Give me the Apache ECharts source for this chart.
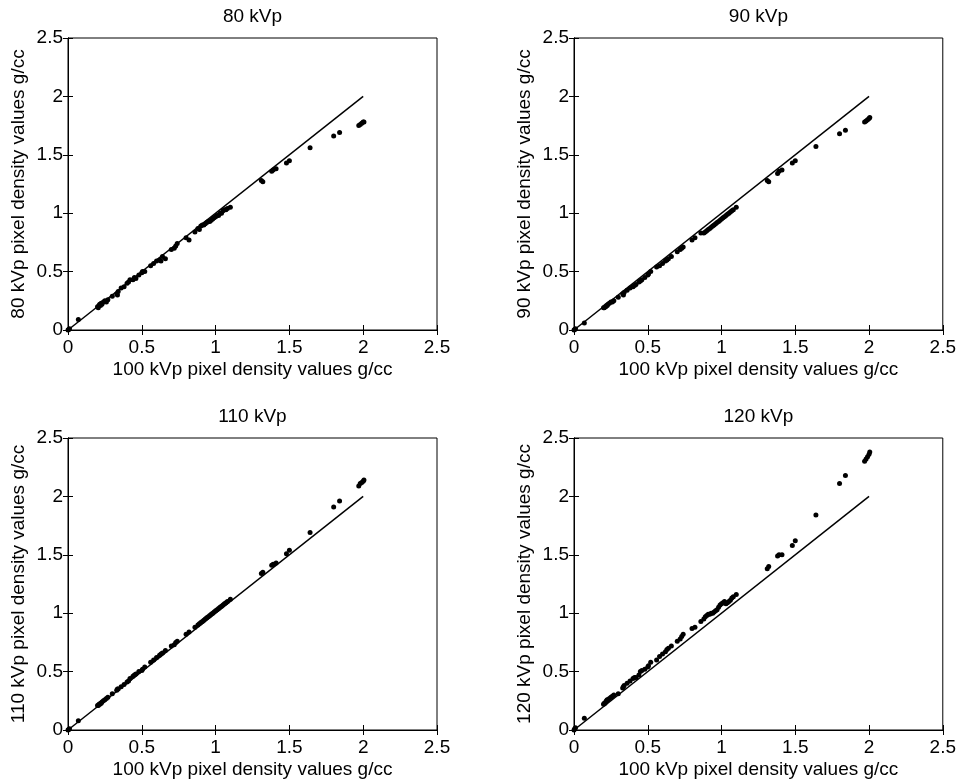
<!DOCTYPE html>
<html>
<head>
<meta charset="utf-8">
<script src="https://cdn.jsdelivr.net/npm/echarts@6/dist/echarts.min.js"></script>
<style>html,body{margin:0;padding:0;background:#fff;}#c{width:959px;height:782px;}</style>
</head>
<body>
<div id="c"></div>
<script>
// 100 kVp pixel density values (shared x values)
const x100 = [0, 0.005, 0.01, 0.07,
  0.2, 0.205, 0.21, 0.215, 0.22, 0.225, 0.23, 0.24, 0.25, 0.26, 0.27,
  0.3, 0.33, 0.335, 0.34, 0.36, 0.38,
  0.4, 0.41, 0.42, 0.44, 0.45, 0.46, 0.48,
  0.5, 0.505, 0.52, 0.56, 0.58,
  0.6, 0.62, 0.63, 0.64, 0.66,
  0.7, 0.72, 0.73, 0.74,
  0.8, 0.82, 0.86, 0.88, 0.89,
  0.9, 0.91, 0.92, 0.93, 0.94, 0.95, 0.96, 0.97, 0.98, 0.99,
  1.0, 1.01, 1.02, 1.03, 1.04, 1.05, 1.06, 1.07, 1.08,
  1.1,
  1.31, 1.32, 1.38, 1.39, 1.41,
  1.48, 1.5, 1.64,
  1.8, 1.84,
  1.97, 1.98, 1.99, 2.0, 2.005];

const y80 = [0, 0.005, 0.01, 0.09,
  0.2, 0.19, 0.21, 0.22, 0.21, 0.23, 0.22, 0.24, 0.25, 0.24, 0.26,
  0.29, 0.31, 0.3, 0.33, 0.36, 0.37,
  0.4, 0.41, 0.43, 0.43, 0.45, 0.44, 0.47,
  0.49, 0.5, 0.5, 0.55, 0.57,
  0.59, 0.6, 0.59, 0.63, 0.61,
  0.69, 0.7, 0.72, 0.74,
  0.79, 0.77, 0.84, 0.87, 0.86,
  0.89, 0.9, 0.9, 0.91, 0.92, 0.93, 0.93, 0.94, 0.95, 0.96,
  0.97, 0.98, 0.98, 1.0, 1.0, 1.02, 1.03, 1.03, 1.04,
  1.05,
  1.28, 1.27, 1.36, 1.37, 1.38,
  1.43, 1.45, 1.56,
  1.66, 1.69,
  1.75, 1.76, 1.77, 1.78, 1.78];

const y90 = [0, 0.005, 0.01, 0.06,
  0.19, 0.19, 0.2, 0.2, 0.21, 0.21, 0.22, 0.23, 0.24, 0.24, 0.25,
  0.28, 0.31, 0.3, 0.32, 0.34, 0.36,
  0.37, 0.38, 0.39, 0.41, 0.42, 0.43, 0.45,
  0.47, 0.48, 0.5, 0.54, 0.55,
  0.57, 0.59, 0.6, 0.61, 0.63,
  0.67, 0.69, 0.7, 0.71,
  0.77, 0.79, 0.83, 0.83, 0.84,
  0.85, 0.86, 0.87, 0.88, 0.89, 0.9, 0.91, 0.92, 0.93, 0.94,
  0.95, 0.96, 0.97, 0.98, 0.99, 1.0, 1.01, 1.02, 1.03,
  1.05,
  1.28, 1.27, 1.34, 1.36, 1.37,
  1.43, 1.45, 1.57,
  1.68, 1.71,
  1.78, 1.79, 1.8, 1.81, 1.82];

const y110 = [0, 0.005, 0.01, 0.08,
  0.21, 0.21, 0.22, 0.22, 0.23, 0.23, 0.24, 0.25, 0.26, 0.27, 0.28,
  0.31, 0.34, 0.35, 0.35, 0.37, 0.39,
  0.41, 0.42, 0.44, 0.46, 0.47, 0.48, 0.5,
  0.51, 0.52, 0.54, 0.58, 0.6,
  0.62, 0.64, 0.65, 0.66, 0.68,
  0.72, 0.73, 0.75, 0.76,
  0.82, 0.84, 0.88, 0.9, 0.91,
  0.92, 0.93, 0.94, 0.95, 0.96, 0.97, 0.98, 0.99, 1.0, 1.01,
  1.02, 1.03, 1.04, 1.05, 1.06, 1.07, 1.08, 1.09, 1.1,
  1.12,
  1.34, 1.35, 1.41, 1.42, 1.43,
  1.51, 1.54, 1.69,
  1.91, 1.96,
  2.09, 2.11, 2.12, 2.13, 2.14];

const y120 = [0, 0.01, 0.02, 0.1,
  0.22, 0.23, 0.23, 0.24, 0.25, 0.26, 0.26, 0.27, 0.28, 0.29, 0.3,
  0.31, 0.36, 0.37, 0.38, 0.4, 0.42,
  0.44, 0.45, 0.45, 0.47, 0.5, 0.51, 0.52,
  0.54, 0.55, 0.58, 0.6, 0.63,
  0.65, 0.67, 0.69, 0.7, 0.72,
  0.76, 0.78, 0.8, 0.82,
  0.87, 0.88, 0.93, 0.95, 0.97,
  0.98, 0.99, 0.99, 1.0, 1.0, 1.01, 1.02, 1.03, 1.05, 1.07,
  1.08, 1.09, 1.1, 1.08, 1.09, 1.1, 1.11, 1.13, 1.14,
  1.16,
  1.38, 1.4, 1.49, 1.5, 1.5,
  1.58, 1.62, 1.84,
  2.11, 2.18,
  2.3, 2.32, 2.34, 2.36, 2.38];

// identity reference line
const lineX = [0, 2];
const lineY = [0, 2];

const panelTitles = ['80 kVp', '90 kVp', '110 kVp', '120 kVp'];
const yNames = ['80 kVp pixel density values g/cc', '90 kVp pixel density values g/cc',
                '110 kVp pixel density values g/cc', '120 kVp pixel density values g/cc'];
const xName = '100 kVp pixel density values g/cc';
const axisMin = 0, axisMax = 2.5, axisStep = 0.5;

const ys = [y80, y90, y110, y120];
const grids = [
  {left: 68, top: 38, width: 369, height: 292},
  {left: 574, top: 38, width: 370, height: 292},
  {left: 68, top: 438, width: 369, height: 292},
  {left: 574, top: 438, width: 370, height: 292}
];

const FONT = 'Liberation Sans, Arial, sans-serif';
const FS = 19;
const option = {
  animation: false,
  backgroundColor: '#fff',
  grid: [], xAxis: [], yAxis: [], series: []
};

grids.forEach((g, i) => {
  option.grid.push(Object.assign({show: true, borderColor: '#000', borderWidth: 1, backgroundColor: '#fff'}, g));
  const base = {
    type: 'value', gridIndex: i, min: axisMin, max: axisMax, interval: axisStep,
    splitLine: {show: false},
    axisLine: {show: true, lineStyle: {color: '#000', width: 1}},
    axisTick: {show: true, inside: true, length: 5, lineStyle: {color: '#000'}}
  };
  option.xAxis.push(Object.assign({}, base, {
    position: 'bottom',
    name: xName, nameLocation: 'middle', nameGap: 30,
    nameTextStyle: {color: '#000', fontSize: FS, fontFamily: FONT},
    axisLabel: {color: '#000', fontSize: FS, fontFamily: FONT, margin: 8}
  }));
  option.xAxis.push(Object.assign({}, base, {
    position: 'top',
    name: panelTitles[i], nameLocation: 'middle', nameGap: 12,
    nameTextStyle: {color: '#000', fontSize: FS, fontFamily: FONT},
    axisLabel: {show: false}
  }));
  option.yAxis.push(Object.assign({}, base, {
    position: 'left',
    name: yNames[i], nameLocation: 'middle', nameGap: 40, nameRotate: 90,
    nameTextStyle: {color: '#000', fontSize: FS, fontFamily: FONT},
    axisLabel: {color: '#000', fontSize: FS, fontFamily: FONT, margin: 5}
  }));
  option.yAxis.push(Object.assign({}, base, {
    position: 'right',
    axisLabel: {show: false}
  }));

  const pts = x100.map((x, k) => [x, ys[i][k]]);
  option.series.push({
    type: 'line', xAxisIndex: i * 2, yAxisIndex: i * 2,
    data: lineX.map((x, k) => [x, lineY[k]]),
    symbol: 'none', lineStyle: {color: '#000', width: 1.5}, z: 2
  });
  option.series.push({
    type: 'scatter', xAxisIndex: i * 2, yAxisIndex: i * 2,
    data: pts, symbol: 'circle', symbolSize: 5,
    itemStyle: {color: '#000', opacity: 1}, z: 3
  });
});

const chart = echarts.init(document.getElementById('c'), null, {renderer: 'canvas'});
chart.setOption(option);
</script>
</body>
</html>
